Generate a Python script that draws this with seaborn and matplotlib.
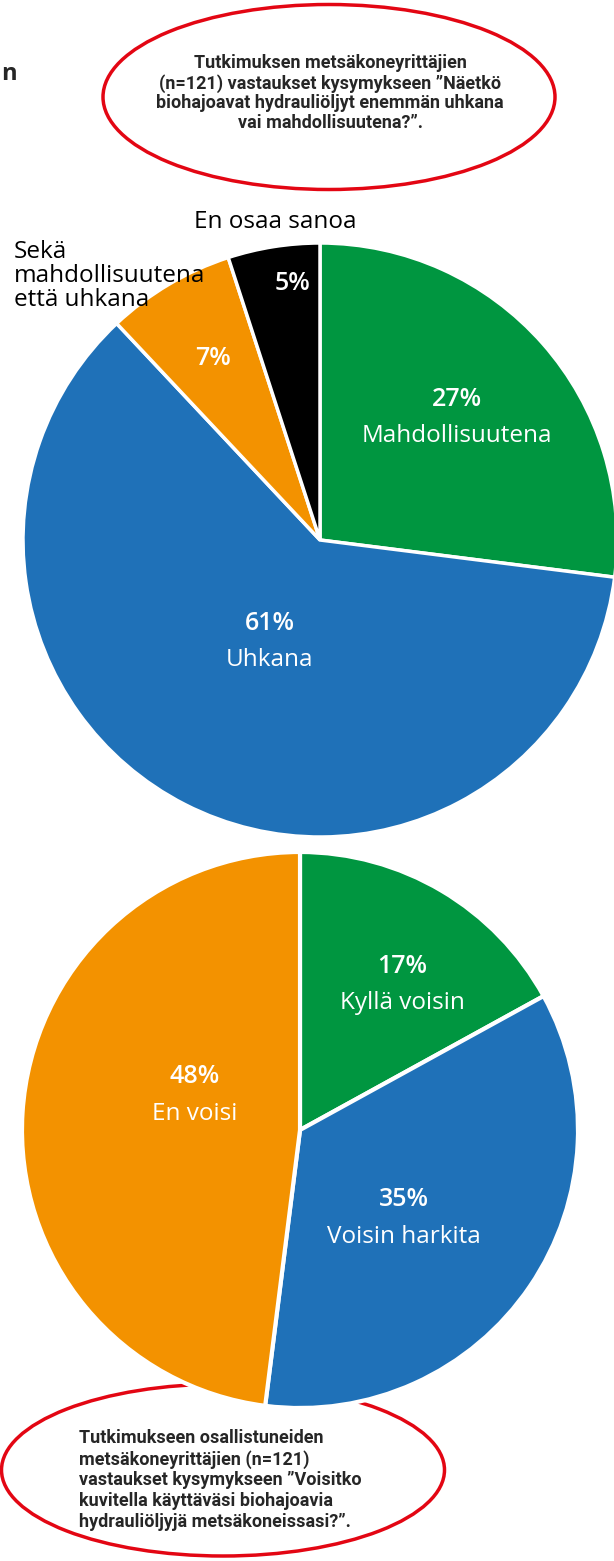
import matplotlib
matplotlib.use("Agg")
import matplotlib.pyplot as plt
from matplotlib.patches import Ellipse
import numpy as np
import seaborn as sb

# data
top_labels = ["Mahdollisuutena", "Uhkana", "Sekä\nmahdollisuutena\nettä uhkana", "En osaa sanoa"]
top_values = [27, 61, 7, 5]
top_colors = ["#009640", "#1f71b8", "#f39200", "#000000"]

bottom_labels = ["Kyllä voisin", "Voisin harkita", "En voisi"]
bottom_values = [17, 35, 48]
bottom_colors = ["#009640", "#1f71b8", "#f39200"]

top_question = ("Tutkimuksen metsäkoneyrittäjien\n(n=121) vastaukset kysymykseen ”Näetkö\n"
                "biohajoavat hydrauliöljyt enemmän uhkana\nvai mahdollisuutena?”.")
bottom_question = ("Tutkimukseen osallistuneiden\nmetsäkoneyrittäjien (n=121)\n"
                   "vastaukset kysymykseen ”Voisitko\nkuvitella käyttäväsi biohajoavia\n"
                   "hydrauliöljyjä metsäkoneissasi?”.")

sb.set_theme(style="white")
plt.rcParams['font.family'] = ['Open Sans', 'DejaVu Sans']

W, H = 614, 1561
fig = plt.figure(figsize=(W / 100, H / 100), dpi=100)
ax = fig.add_axes([0, 0, 1, 1])

def Y(y):
    # image pixel row -> data y
    return H - y

narrow = ['Roboto', 'DejaVu Sans']

# %%
# pie 1
cx1, cy1, r1 = 320, 540, 297
w1, _ = ax.pie(top_values, colors=top_colors, startangle=90, counterclock=False,
               center=(cx1, Y(cy1)), radius=r1,
               wedgeprops=dict(edgecolor="white", linewidth=2.5), frame=True)

# label placement (distance fraction, angle shift)
top_place = [(0.62, 0.5), (0.38, 0.5), (0.71, 0), (0.87, -3)]
for i, wd in enumerate(w1):
    mid = np.deg2rad((wd.theta1 + wd.theta2) / 2 + top_place[i][1])
    d = top_place[i][0] * r1
    x = cx1 + d * np.cos(mid)
    y = Y(cy1) + d * np.sin(mid)
    pct = f"{top_values[i]}%"
    if i < 2:
        ax.text(x, y + 18, pct, color="white", fontsize=18, fontweight="semibold", ha="center", va="center")
        ax.text(x, y - 19, top_labels[i], color="white", fontsize=17.5, ha="center", va="center")
    else:
        ax.text(x, y, pct, color="white", fontsize=18, fontweight="semibold", ha="center", va="center")

ax.text(275, Y(222), top_labels[3], fontsize=17.5, color="black", ha="center", va="center")
ax.text(14, Y(276), top_labels[2], fontsize=17.5, color="black", ha="left", va="center",
        linespacing=1.0)

# %%
# pie 2
cx2, cy2, r2 = 300, 1130, 278
w2, _ = ax.pie(bottom_values, colors=bottom_colors, startangle=90, counterclock=False,
               center=(cx2, Y(cy2)), radius=r2,
               wedgeprops=dict(edgecolor="white", linewidth=3, zorder=3), frame=True)

bottom_place = [(0.64, -4.5), (0.49, -6), (0.40, -15)]
for i, wd in enumerate(w2):
    mid = np.deg2rad((wd.theta1 + wd.theta2) / 2 + bottom_place[i][1])
    d = bottom_place[i][0] * r2
    x = cx2 + d * np.cos(mid)
    y = Y(cy2) + d * np.sin(mid)
    ax.text(x, y + 18, f"{bottom_values[i]}%", color="white", fontsize=18, fontweight="semibold",
            ha="center", va="center", zorder=5)
    ax.text(x, y - 19, bottom_labels[i], color="white", fontsize=17.5, ha="center", va="center", zorder=5)

# %%
# ellipses with the question texts
ax.add_patch(Ellipse((329, Y(97)), 452, 185, fill=False, edgecolor="#e30613", linewidth=2.5, zorder=1))
ax.text(330, Y(93), top_question, family=narrow, fontsize=13, fontweight="bold",
        ha="center", va="center", linespacing=1.1)

ax.add_patch(Ellipse((223, Y(1470)), 443, 172, fill=False, edgecolor="#e30613", linewidth=2.5, zorder=1))
ax.text(79, Y(1480), bottom_question, family=narrow, fontsize=13, fontweight="bold",
        ha="left", va="center", linespacing=1.2, zorder=5)

# text piece at the left edge
ax.text(1, Y(74), "n", fontsize=17, fontweight="bold", ha="left", va="center")

ax.set_xlim(0, W)
ax.set_ylim(0, H)
ax.set_aspect("equal")
ax.axis("off")

fig.savefig("out.png", dpi=100)
